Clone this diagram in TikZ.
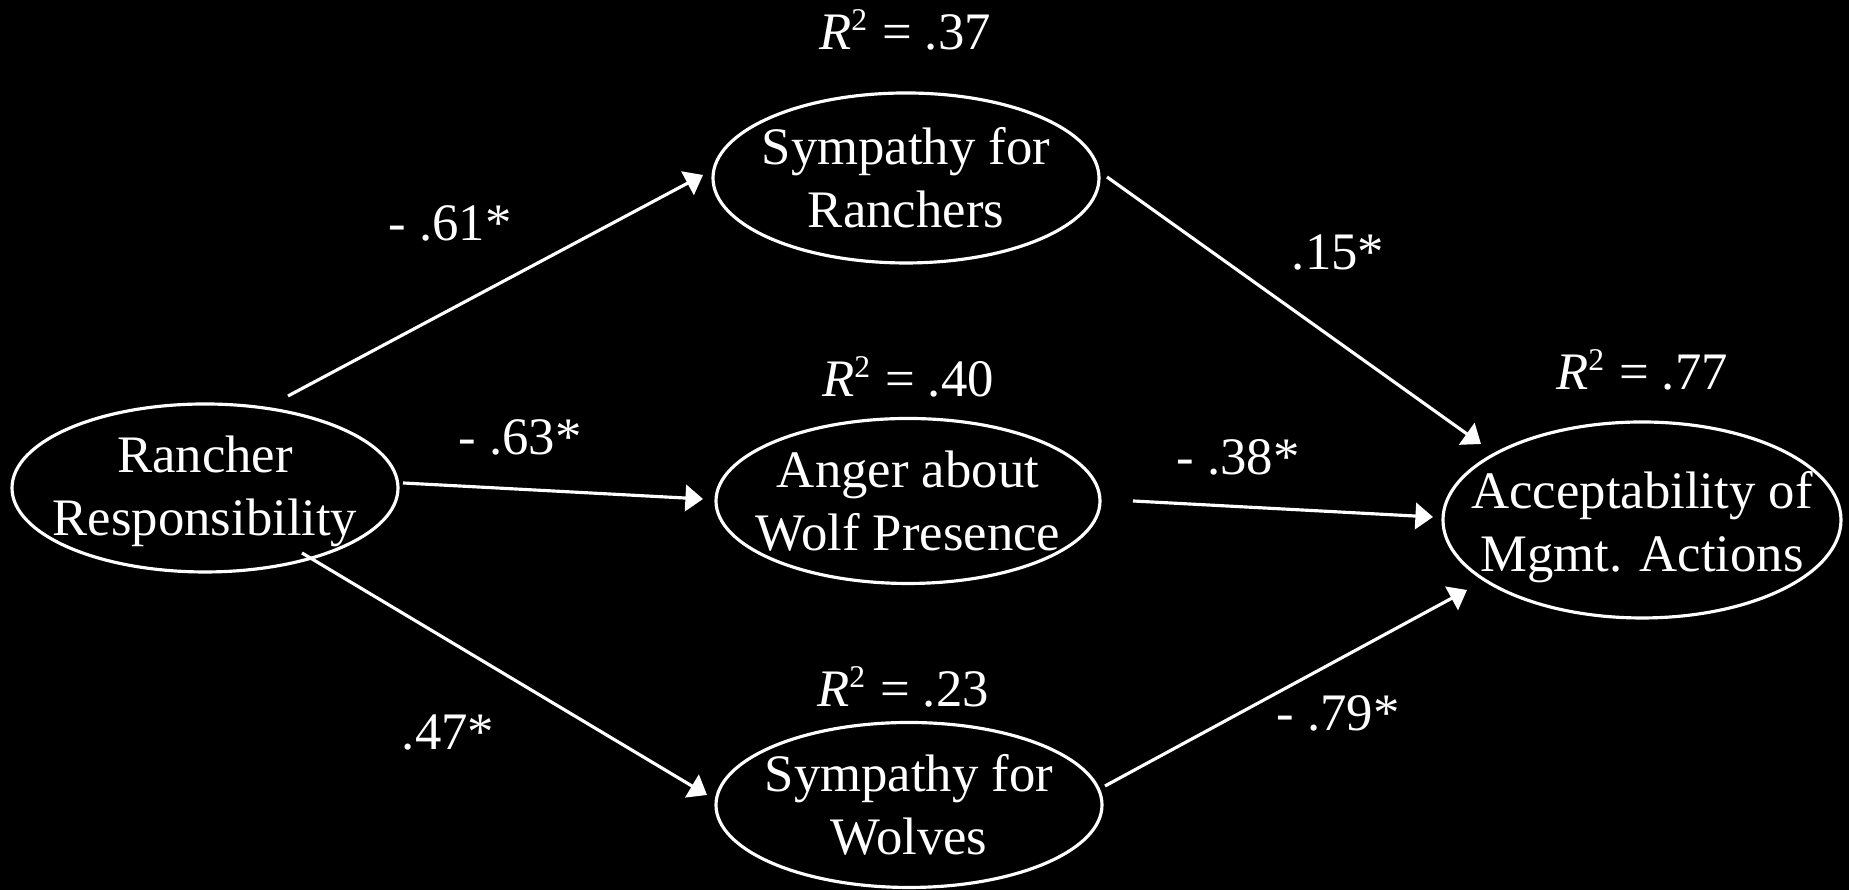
\documentclass[tikz,border=0pt]{standalone}
\usepackage{fontspec}
\setmainfont{Liberation Serif}
\usetikzlibrary{shapes.geometric, arrows.meta}
\tikzset{
    factor/.style={draw=white, ellipse, line width=0.9pt, inner sep=0pt,
        minimum width=3.86cm, minimum height=1.68cm},
    effect/.style={draw=white, line width=0.9pt, -{Triangle[length=5pt, width=7.5pt]}},
}

\begin{document}
\begin{tikzpicture}[font=\fontsize{15pt}{18pt}\selectfont, text=white]

    \fill[black] (0,0) rectangle (18.49,8.90);
    \useasboundingbox (0,0) rectangle (18.49,8.90);

    % Latent variables
    \node[factor, label={[align=center, yshift=-1pt]center:Rancher\\Responsibility}] (resp) at (2.05,4.02) {};
    \node[factor, minimum height=1.70cm, label={[align=center]center:Sympathy for\\Ranchers}] (symr) at (9.06,7.12) {};
    \node[factor, minimum width=3.84cm, minimum height=1.65cm, label={[align=center]center:Anger about\\Wolf Presence}] (anger) at (9.08,3.89) {};
    \node[factor, minimum height=1.65cm, label={[align=center]center:Sympathy for\\Wolves}] (symw) at (9.09,0.85) {};
    \node[factor, minimum width=3.98cm, minimum height=1.96cm, label={[align=center, yshift=-2pt]center:Acceptability of\\Mgmt. Actions}] (accept) at (16.42,3.70) {};

    % Explained variance
    \node (r37) at (9.05,8.60) {\textit{R}\textsuperscript{\small 2} = .37};
    \node (r40) at (9.08,5.13) {\textit{R}\textsuperscript{\small 2} = .40};
    \node (r23) at (9.03,2.03) {\textit{R}\textsuperscript{\small 2} = .23};
    \node (r77) at (16.42,5.20) {\textit{R}\textsuperscript{\small 2} = .77};

    % Paths
    \draw[effect] ([shift={(0.83,0.92)}]resp.center) -- ([shift={(-2.03,0.03)}]symr.center);
    \draw[effect] ([shift={(1.98,0.05)}]resp.center) -- ([shift={(-2.05,0.02)}]anger.center);
    \draw[effect] ([shift={(0.97,-0.65)}]resp.center) -- ([shift={(-2.02,0.10)}]symw.center);
    \draw[effect] ([shift={(2.01,0.01)}]symr.center) -- ([shift={(-1.61,0.76)}]accept.center);
    \draw[effect] ([shift={(2.25,0.00)}]anger.center) -- ([shift={(-2.09,0.03)}]accept.center);
    \draw[effect] ([shift={(1.96,0.19)}]symw.center) -- ([shift={(-1.75,-0.70)}]accept.center);

    % Coefficients
    \node (b61) at (4.50,6.67) {- .61*};
    \node (b63) at (5.20,4.53) {- .63*};
    \node (b47) at (4.48,1.57) {.47*};
    \node (b15) at (13.38,6.38) {.15*};
    \node (b38) at (12.38,4.33) {- .38*};
    \node (b79) at (13.38,1.77) {- .79*};

\end{tikzpicture}
\end{document}
